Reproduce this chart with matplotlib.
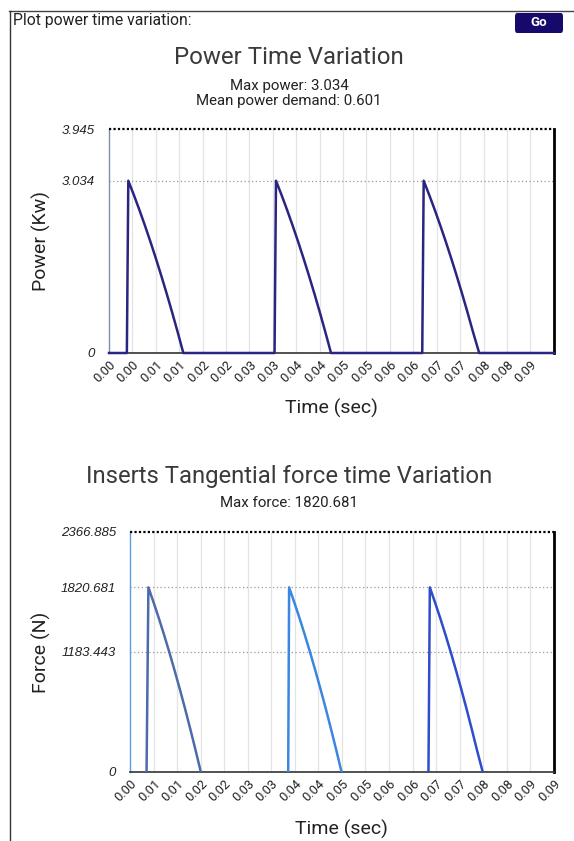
import matplotlib
matplotlib.use("Agg")
import matplotlib.pyplot as plt
from matplotlib.patches import FancyBboxPatch
from matplotlib.lines import Line2D

W, H = 574, 841
plt.rcParams['font.family'] = ['Roboto', 'DejaVu Sans']

# ---------------- data ----------------
x_max = 0.0922
x_ticks_power = [0.0, 0.00485, 0.0097, 0.01455, 0.0194, 0.02425, 0.0291, 0.03395, 0.0388, 0.04365,
                 0.0485, 0.05335, 0.0582, 0.06305, 0.0679, 0.07275, 0.0776, 0.08245, 0.0873]
x_tick_labels_power = ["0.00", "0.00", "0.01", "0.01", "0.02", "0.02", "0.03", "0.03", "0.04", "0.04",
                       "0.05", "0.05", "0.06", "0.06", "0.07", "0.07", "0.08", "0.08", "0.09"]
x_ticks_force = [0.0, 0.00512, 0.01024, 0.01536, 0.02048, 0.0256, 0.03072, 0.03584, 0.04096, 0.04608,
                 0.0512, 0.05632, 0.06144, 0.06656, 0.07168, 0.0768, 0.08192, 0.08704, 0.0922]
x_tick_labels_force = ["0.00", "0.01", "0.01", "0.02", "0.02", "0.03", "0.03", "0.04", "0.04", "0.05",
                       "0.05", "0.06", "0.06", "0.07", "0.07", "0.08", "0.08", "0.09", "0.09"]

power_time = [0.0, 0.0037, 0.0040, 0.00514, 0.00628, 0.00742, 0.00856, 0.0097, 0.01084, 0.01198, 0.01312,
              0.01426, 0.0154,
              0.0343, 0.0346, 0.03574, 0.03688, 0.03802, 0.03916, 0.0403, 0.04144, 0.04258, 0.04372,
              0.04486, 0.0460,
              0.0649, 0.0652, 0.06634, 0.06748, 0.06862, 0.06976, 0.0709, 0.07204, 0.07318, 0.07432,
              0.07546, 0.0767,
              0.0922]
power_kw = [0.0, 0.0, 3.034, 2.785, 2.524, 2.251, 1.966, 1.669, 1.359, 1.038, 0.704, 0.358, 0.0,
            0.0, 3.034, 2.785, 2.524, 2.251, 1.966, 1.669, 1.359, 1.038, 0.704, 0.358, 0.0,
            0.0, 3.034, 2.785, 2.524, 2.251, 1.966, 1.669, 1.359, 1.038, 0.704, 0.358, 0.0,
            0.0]
power_ymax = 3.945
power_yticks = [0, 3.034, 3.945]
power_ylabels = ["0", "3.034", "3.945"]

insert1_time = [0.0036, 0.0040, 0.00514, 0.00628, 0.00742, 0.00856, 0.0097, 0.01084, 0.01198, 0.01312,
                0.01426, 0.0154]
insert2_time = [0.0344, 0.0346, 0.03574, 0.03688, 0.03802, 0.03916, 0.0403, 0.04144, 0.04258, 0.04372,
                0.04486, 0.0460]
insert3_time = [0.0649, 0.0652, 0.06634, 0.06748, 0.06862, 0.06976, 0.0709, 0.07204, 0.07318, 0.07432,
                0.07546, 0.0767]
insert_force = [0.0, 1820.681, 1671, 1515, 1351, 1180, 1001, 816, 623, 422, 215, 0.0]
force_ymax = 2366.885
force_yticks = [0, 1183.443, 1820.681, 2366.885]
force_ylabels = ["0", "1183.443", "1820.681", "2366.885"]

insert_colors = ['#4d6aab', '#3b86e0', '#2f4ccb']


def fx(px):
    return px / W


def fy(py):
    return 1 - py / H


fig = plt.figure(figsize=(W / 100, H / 100), dpi=100)
fig.patch.set_facecolor('white')

# page frame
fig.add_artist(Line2D([fx(9), fx(574)], [fy(11), fy(11)], color='#444', lw=1.0))
fig.add_artist(Line2D([fx(9.5), fx(9.5)], [fy(11), fy(841)], color='#333', lw=1.0))
fig.text(fx(13), fy(21), "Plot power time variation:", fontsize=11.3, color='#222',
         va='center', ha='left')
btn = FancyBboxPatch((fx(515), fy(33)), fx(563) - fx(515), fy(13) - fy(33),
                     boxstyle="round,pad=0,rounding_size=0.004", transform=fig.transFigure,
                     facecolor='#150a6b', edgecolor='none')
fig.add_artist(btn)
fig.text(fx(539), fy(23), "Go", color='white', fontsize=9.5, fontweight='bold', ha='center', va='center')


def style_axes(ax, left_color, yticks, ylabels, xticks, xlabels, ymax):
    ax.set_xlim(0, x_max)
    ax.set_ylim(0, ymax)
    ax.set_xticks(xticks)
    ax.set_xticklabels(xlabels, rotation=45, ha='right', va='top', rotation_mode='anchor',
                       fontsize=9.3, color='#222')
    ax.set_yticks(yticks)
    ax.set_yticklabels(ylabels, color='#222')
    for lab in ax.get_yticklabels():
        lab.set_fontfamily(['Liberation Sans', 'DejaVu Sans'])
        lab.set_fontstyle('italic')
        lab.set_fontsize(9.5)
    ax.tick_params(axis='both', length=0)
    ax.tick_params(axis='x', pad=4)
    ax.tick_params(axis='y', pad=10)
    for xv in xticks[1:]:
        ax.axvline(xv, color='#e3e3e3', lw=0.9, zorder=0)
    for yv in yticks[1:-1]:
        ax.axhline(yv, color='#999', lw=0.9, ls=(0, (1, 2)), zorder=0)
    ax.spines['left'].set_color(left_color)
    ax.spines['left'].set_linewidth(1.0)
    ax.spines['bottom'].set_color('#333')
    ax.spines['bottom'].set_linewidth(1.2)
    ax.spines['right'].set_color('black')
    ax.spines['right'].set_linewidth(2.0)
    ax.spines['top'].set_visible(False)
    ax.axhline(ymax, color='black', lw=1.6, ls=(0, (1, 1)), clip_on=False, zorder=3)


# ---------- power chart ----------
ax1 = fig.add_axes([fx(109), fy(353), fx(554) - fx(109), fy(129) - fy(353)])
style_axes(ax1, '#7a93ad', power_yticks, power_ylabels, x_ticks_power, x_tick_labels_power, power_ymax)
ax1.plot(power_time, power_kw, color='#2a2580', lw=1.8, zorder=4, clip_on=False)

fig.text(fx(289), fy(57), "Power Time Variation", fontsize=17.3, color='#3a3a3a', ha='center', va='center')
fig.text(fx(289), fy(86), "Max power: 3.034", fontsize=10.8, color='#222', ha='center', va='center')
fig.text(fx(289), fy(101), "Mean power demand: 0.601", fontsize=10.8, color='#222', ha='center', va='center')
fig.text(fx(41), fy(241), "Power (Kw)", fontsize=14, color='#222', rotation=90, ha='center', va='center')
fig.text(fx(331), fy(408), "Time (sec)", fontsize=14, color='#222', ha='center', va='center')

# ---------- force chart ----------
ax2 = fig.add_axes([fx(130), fy(772), fx(554) - fx(130), fy(532) - fy(772)])
style_axes(ax2, '#5b9be2', force_yticks, force_ylabels, x_ticks_force, x_tick_labels_force, force_ymax)
for tt, col in zip([insert1_time, insert2_time, insert3_time], insert_colors):
    ax2.plot(tt, insert_force, color=col, lw=1.8, zorder=4)

fig.text(fx(289), fy(476), "Inserts Tangential force time Variation", fontsize=17.2, color='#3a3a3a',
         ha='center', va='center')
fig.text(fx(289), fy(503), "Max force: 1820.681", fontsize=10.8, color='#222', ha='center', va='center')
fig.text(fx(41), fy(652), "Force (N)", fontsize=14, color='#222', rotation=90, ha='center', va='center')
fig.text(fx(341), fy(829), "Time (sec)", fontsize=14, color='#222', ha='center', va='center')

fig.savefig("out.png", dpi=100, facecolor='white')
